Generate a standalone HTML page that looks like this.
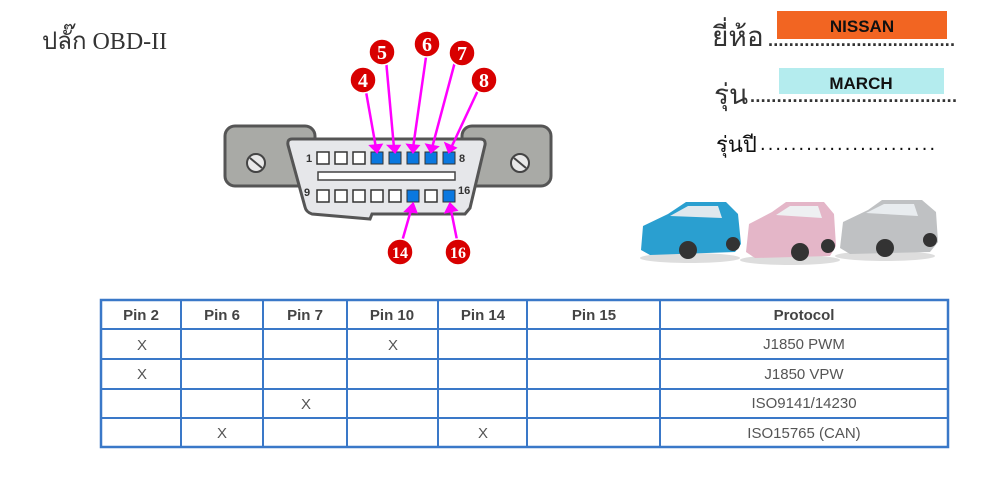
<!DOCTYPE html>
<html><head><meta charset="utf-8"><style>
body{margin:0;background:#fff;width:1000px;height:477px;overflow:hidden;position:relative;font-family:"Liberation Sans",sans-serif}
.a{position:absolute}
</style></head><body>
<svg class="a" style="left:0;top:0" width="1000" height="477" xmlns="http://www.w3.org/2000/svg">
<text x="42" y="49" font-family="Liberation Serif, serif" font-size="24" fill="#333">ปลั๊ก OBD-II</text>
<rect x="225" y="126" width="90" height="60" rx="10" fill="#a9aaa6" stroke="#555" stroke-width="3"/>
<rect x="462" y="126" width="89" height="60" rx="10" fill="#a9aaa6" stroke="#555" stroke-width="3"/>
<circle cx="256" cy="163" r="9" fill="#e8e8e8" stroke="#444" stroke-width="2"/>
<line x1="250" y1="158" x2="262" y2="168" stroke="#444" stroke-width="2"/>
<circle cx="520" cy="163" r="9" fill="#e8e8e8" stroke="#444" stroke-width="2"/>
<line x1="514" y1="158" x2="526" y2="168" stroke="#444" stroke-width="2"/>
<path d="M292 139 L480 139 Q486 139 485 145 L470 208 L465 214 L372 214 L370 219 L312 214 Q306 212 305 207 L288 145 Q287 139 292 139 Z" fill="#e6e7ea" stroke="#555" stroke-width="3"/>
<rect x="318" y="172" width="137" height="8" fill="#fff" stroke="#444" stroke-width="1.5"/>
<g stroke="#333" stroke-width="1.5" fill="#fff">
<rect x="317" y="152" width="12" height="12"/><rect x="335" y="152" width="12" height="12"/><rect x="353" y="152" width="12" height="12"/>
<rect x="317" y="190" width="12" height="12"/><rect x="335" y="190" width="12" height="12"/><rect x="353" y="190" width="12" height="12"/><rect x="371" y="190" width="12" height="12"/><rect x="389" y="190" width="12" height="12"/><rect x="425" y="190" width="12" height="12"/>
</g>
<g fill="#0a78e0" stroke="#333" stroke-width="1">
<rect x="371" y="152" width="12" height="12"/><rect x="389" y="152" width="12" height="12"/><rect x="407" y="152" width="12" height="12"/><rect x="425" y="152" width="12" height="12"/><rect x="443" y="152" width="12" height="12"/>
<rect x="407" y="190" width="12" height="12"/><rect x="443" y="190" width="12" height="12"/>
</g>
<g font-size="11" font-weight="bold" fill="#333">
<text x="306" y="162">1</text><text x="459" y="162">8</text><text x="304" y="196">9</text><text x="458" y="194">16</text>
</g>
<g stroke="#ff00ff" stroke-width="2.5" fill="#ff00ff">
<line x1="365" y1="86" x2="376" y2="148"/><polygon points="371,146 381,145 377,152"/>
<line x1="386" y1="60" x2="394" y2="148"/><polygon points="389,146 399,146 395,152"/>
<line x1="427" y1="50" x2="413" y2="148"/><polygon points="408,145 418,146 413,152"/>
<line x1="456" y1="58" x2="432" y2="148"/><polygon points="427,145 437,147 431,152"/>
<line x1="480" y1="86" x2="451" y2="148"/><polygon points="446,144 455,148 449,152"/>
<line x1="401" y1="245" x2="411" y2="210"/><polygon points="406,211 416,212 413,204"/>
<line x1="458" y1="245" x2="451" y2="210"/><polygon points="446,212 456,210 450,204"/>
</g>
<g fill="#d80000" stroke="#fff" stroke-width="1.5">
<circle cx="363" cy="80" r="13"/><circle cx="382" cy="52" r="13"/><circle cx="427" cy="44" r="13"/><circle cx="462" cy="53" r="13"/><circle cx="484" cy="80" r="13"/><circle cx="400" cy="252" r="13"/><circle cx="458" cy="252" r="13"/>
</g>
<g font-family="Liberation Serif, serif" font-weight="bold" fill="#fff" text-anchor="middle">
<text x="363" y="87" font-size="20">4</text><text x="382" y="59" font-size="20">5</text><text x="427" y="51" font-size="20">6</text><text x="462" y="60" font-size="20">7</text><text x="484" y="87" font-size="20">8</text><text x="400" y="258" font-size="16">14</text><text x="458" y="258" font-size="16">16</text>
</g>
<rect x="777" y="11" width="170" height="28" fill="#f26522"/>
<text x="862" y="32" font-size="17" font-weight="bold" text-anchor="middle" fill="#111">NISSAN</text>
<rect x="779" y="68" width="165" height="26" fill="#b4ecee"/>
<text x="861" y="89" font-size="17" font-weight="bold" text-anchor="middle" fill="#111">MARCH</text>
<text x="712" y="46" font-size="28" fill="#333">ยี่ห้อ</text>
<text x="768" y="46" font-size="18" font-weight="bold" fill="#333" textLength="187" lengthAdjust="spacing">....................................</text>
<text x="714" y="104" font-size="28" fill="#333">รุ่น</text>
<text x="750" y="102" font-size="18" font-weight="bold" fill="#333" textLength="207" lengthAdjust="spacing">.......................................</text>
<text x="716" y="152" font-size="22" fill="#111">รุ่นปี</text>
<text x="760" y="150" font-size="20" fill="#111" textLength="175" lengthAdjust="spacing">.......................</text>
<g>
<ellipse cx="690" cy="258" rx="50" ry="5" fill="#ddd"/>
<path d="M641 250 L643 226 L668 214 L686 202 L726 202 L738 214 L741 244 L735 252 L650 255 Z" fill="#2a9fd0"/>
<path d="M670 216 L688 206 L718 206 L722 218 Z" fill="#dfe8ee"/>
<circle cx="688" cy="250" r="9" fill="#333"/><circle cx="733" cy="244" r="7" fill="#333"/>
<ellipse cx="790" cy="260" rx="50" ry="5" fill="#ddd"/>
<path d="M746 252 L749 224 L772 212 L786 202 L824 202 L834 214 L836 246 L830 256 L755 258 Z" fill="#e4b6c8"/>
<path d="M776 215 L790 206 L818 206 L822 218 Z" fill="#eef0f2"/>
<circle cx="800" cy="252" r="9" fill="#333"/><circle cx="828" cy="246" r="7" fill="#333"/>
<ellipse cx="885" cy="256" rx="50" ry="5" fill="#ddd"/>
<path d="M840 248 L843 222 L868 210 L882 200 L922 200 L936 212 L938 242 L930 252 L850 254 Z" fill="#bfc1c3"/>
<path d="M866 213 L884 204 L914 204 L918 216 Z" fill="#e8ecef"/>
<circle cx="885" cy="248" r="9" fill="#333"/><circle cx="930" cy="240" r="7" fill="#333"/>
</g>
<rect x="101" y="300" width="847" height="147" fill="#fff" stroke="#3a78c8" stroke-width="2.5"/>
<g stroke="#3a78c8" stroke-width="2">
<line x1="101" y1="329" x2="948" y2="329"/><line x1="101" y1="359" x2="948" y2="359"/><line x1="101" y1="389" x2="948" y2="389"/><line x1="101" y1="418" x2="948" y2="418"/>
<line x1="181" y1="300" x2="181" y2="447"/><line x1="263" y1="300" x2="263" y2="447"/><line x1="347" y1="300" x2="347" y2="447"/><line x1="438" y1="300" x2="438" y2="447"/><line x1="527" y1="300" x2="527" y2="447"/><line x1="660" y1="300" x2="660" y2="447"/>
</g>
<g font-size="15" font-weight="bold" fill="#444" text-anchor="middle">
<text x="141" y="320">Pin 2</text><text x="222" y="320">Pin 6</text><text x="305" y="320">Pin 7</text><text x="392" y="320">Pin 10</text><text x="483" y="320">Pin 14</text><text x="594" y="320">Pin 15</text><text x="804" y="320">Protocol</text>
</g>
<g font-size="15" fill="#555" text-anchor="middle">
<text x="142" y="350">X</text><text x="393" y="350">X</text><text x="804" y="349">J1850 PWM</text>
<text x="142" y="379">X</text><text x="804" y="379">J1850 VPW</text>
<text x="306" y="409">X</text><text x="804" y="408">ISO9141/14230</text>
<text x="222" y="438">X</text><text x="483" y="438">X</text><text x="804" y="438">ISO15765 (CAN)</text>
</g>
</svg>
</body></html>
